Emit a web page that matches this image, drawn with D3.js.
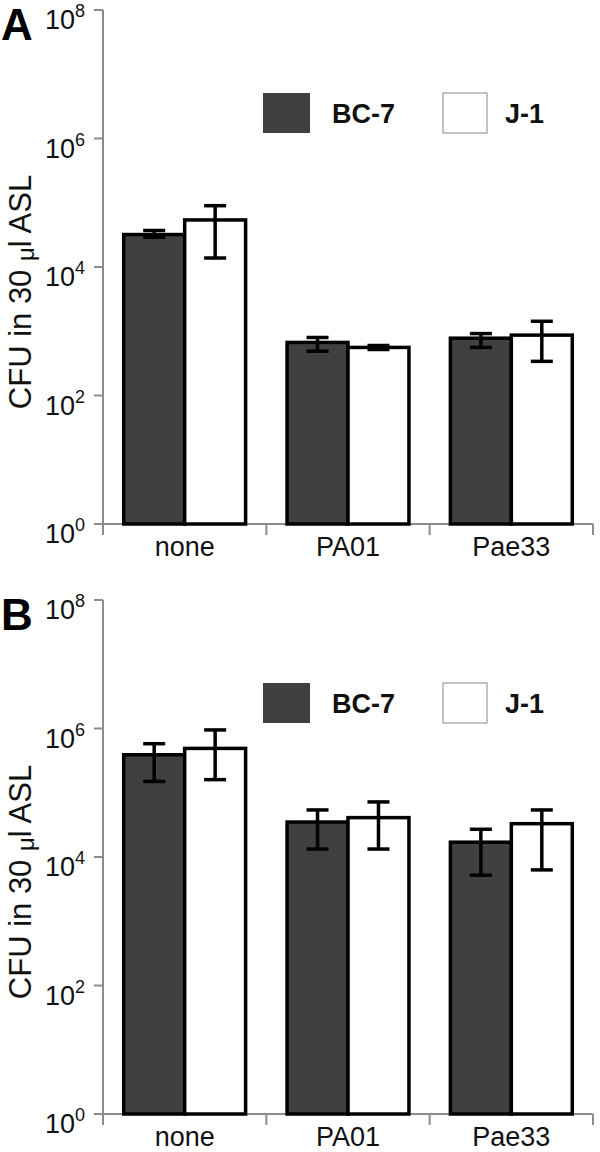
<!DOCTYPE html>
<html><head><meta charset="utf-8">
<script src="https://cdn.jsdelivr.net/npm/d3@7"></script>
<style>body{margin:0;background:#fff}svg{display:block}</style>
</head><body>
<svg id="c" width="600" height="1152"></svg>
<script>
const categories = ["none", "PA01", "Pae33"];
const seriesNames = ["BC-7", "J-1"];
const tickExponents = [0, 2, 4, 6, 8];
const yLabelParts = ["CFU in 30 ", "\u03bc", "l ASL"];
const panelLetters = ["A", "B"];

// Panel A
const aBC7 = [3.2e4, 670, 780];
const aBC7Lo = [2.9e4, 490, 560];
const aBC7Hi = [3.7e4, 800, 920];
const aJ1 = [5.4e4, 560, 870];
const aJ1Lo = [1.38e4, 520, 340];
const aJ1Hi = [9.0e4, 600, 1430];

// Panel B
const bBC7 = [3.9e5, 3.5e4, 1.7e4];
const bBC7Lo = [1.5e5, 1.33e4, 5.2e3];
const bBC7Hi = [5.8e5, 5.4e4, 2.7e4];
const bJ1 = [4.9e5, 4.1e4, 3.3e4];
const bJ1Lo = [1.6e5, 1.33e4, 6.3e3];
const bJ1Hi = [9.5e5, 7.2e4, 5.4e4];

const panels = [
  {letter: panelLetters[0], top: 10, bottom: 524,
   vals: [aBC7, aJ1], lo: [aBC7Lo, aJ1Lo], hi: [aBC7Hi, aJ1Hi]},
  {letter: panelLetters[1], top: 600, bottom: 1114,
   vals: [bBC7, bJ1], lo: [bBC7Lo, bJ1Lo], hi: [bBC7Hi, bJ1Hi]}
];

const svg = d3.select("#c");
const fills = ["#404040", "#ffffff"];
const left = 103, right = 593;
const font = "Liberation Sans, Arial, sans-serif";
const axisColor = "#8c8c8c";

const x0 = d3.scaleBand().domain(categories).range([left, right]).paddingInner(0).paddingOuter(0);
const x1 = d3.scaleBand().domain(seriesNames).range([0, x0.bandwidth()]).paddingOuter(0.34).paddingInner(0);

panels.forEach(p => {
  const g = svg.append("g");
  const y = d3.scaleLog().domain([1, 1e8]).range([p.bottom, p.top]);

  // y axis
  g.append("line").attr("x1", left).attr("x2", left).attr("y1", p.top).attr("y2", p.bottom)
    .attr("stroke", axisColor).attr("stroke-width", 2);
  tickExponents.forEach(e => {
    const ty = y(Math.pow(10, e));
    g.append("line").attr("x1", left - 9).attr("x2", left).attr("y1", ty).attr("y2", ty)
      .attr("stroke", axisColor).attr("stroke-width", 2);
    const t = g.append("text").attr("x", 85).attr("y", ty + 19).attr("text-anchor", "end")
      .attr("font-family", font).attr("font-size", 27).attr("fill", "#111");
    t.append("tspan").text("10");
    t.append("tspan").attr("dy", -12).attr("font-size", 18).text(e);
  });

  // x axis
  g.append("line").attr("x1", left).attr("x2", right).attr("y1", p.bottom).attr("y2", p.bottom)
    .attr("stroke", axisColor).attr("stroke-width", 2);
  const boundaries = [left].concat(categories.map(c => x0(c) + x0.bandwidth()));
  boundaries.forEach(tx => {
    g.append("line").attr("x1", tx).attr("x2", tx).attr("y1", p.bottom).attr("y2", p.bottom + 11)
      .attr("stroke", axisColor).attr("stroke-width", 2);
  });
  categories.forEach(c => {
    g.append("text").attr("x", x0(c) + x0.bandwidth() / 2).attr("y", p.bottom + 32)
      .attr("text-anchor", "middle").attr("font-family", font).attr("font-size", 27)
      .attr("fill", "#111").text(c);
  });

  // bars
  seriesNames.forEach((s, si) => {
    categories.forEach((c, ci) => {
      const bx = x0(c) + x1(s);
      const v = p.vals[si][ci];
      g.append("rect").attr("x", bx).attr("y", y(v)).attr("width", x1.bandwidth())
        .attr("height", p.bottom - y(v)).attr("fill", fills[si])
        .attr("stroke", "#000").attr("stroke-width", 3.5);
    });
  });
  // error bars
  seriesNames.forEach((s, si) => {
    categories.forEach((c, ci) => {
      const cx = x0(c) + x1(s) + x1.bandwidth() / 2;
      const lo = y(p.lo[si][ci]), hi = y(p.hi[si][ci]);
      const eb = g.append("g").attr("stroke", "#000").attr("stroke-width", 3.5);
      eb.append("line").attr("x1", cx).attr("x2", cx).attr("y1", lo).attr("y2", hi);
      eb.append("line").attr("x1", cx - 11).attr("x2", cx + 11).attr("y1", lo).attr("y2", lo);
      eb.append("line").attr("x1", cx - 11).attr("x2", cx + 11).attr("y1", hi).attr("y2", hi);
    });
  });

  // legend
  const ly = p.top + 83;
  const legendX = [263, 443];
  seriesNames.forEach((s, si) => {
    g.append("rect").attr("x", legendX[si]).attr("y", ly).attr("width", si === 0 ? 47 : 44).attr("height", 40)
      .attr("fill", fills[si]).attr("stroke", si === 0 ? "none" : "#888").attr("stroke-width", 1);
    g.append("text").attr("x", legendX[si] + (si === 0 ? 69 : 62)).attr("y", ly + 30)
      .attr("font-family", font).attr("font-weight", "bold").attr("font-size", 27)
      .attr("fill", "#111").text(s);
  });

  // y label
  const cy = p.top + 282;
  const yl = g.append("text").attr("transform", `translate(31,${cy}) rotate(-90)`)
    .attr("text-anchor", "middle").attr("font-family", font).attr("font-size", 31)
    .attr("fill", "#111");
  yl.append("tspan").text(yLabelParts[0]);
  yl.append("tspan").attr("font-size", 24).attr("dy", 3).text(yLabelParts[1]);
  yl.append("tspan").attr("dy", -3).text(yLabelParts[2]);

  // panel letter
  g.append("text").attr("x", 1).attr("y", p.top + 30).attr("font-family", font)
    .attr("font-weight", "bold").attr("font-size", 44).attr("fill", "#000").text(p.letter);
});
</script>
</body></html>
